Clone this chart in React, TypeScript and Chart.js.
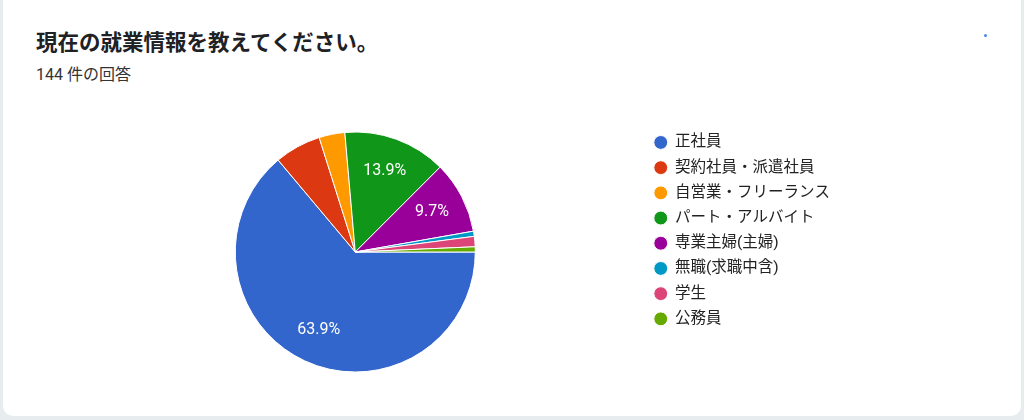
import React, { useEffect, useRef } from "react";
import { Chart, registerables } from "chart.js";

Chart.register(...registerables);

const categories = [
  "正社員",
  "契約社員・派遣社員",
  "自営業・フリーランス",
  "パート・アルバイト",
  "専業主婦(主婦)",
  "無職(求職中含)",
  "学生",
  "公務員",
];
const counts = [92, 9, 5, 20, 14, 1, 2, 1];
const colors = ["#3366cc", "#dc3912", "#ff9900", "#109618", "#990099", "#0099c6", "#dd4477", "#66aa00"];
const titleText = "現在の就業情報を教えてください。";
const responseText = "144 件の回答";

// draws the percentage inside the larger slices, like google forms does
const sliceLabels = {
  id: "sliceLabels",
  afterDatasetsDraw(chart: any) {
    const ctx = chart.ctx;
    const meta = chart.getDatasetMeta(0);
    const data = chart.data.datasets[0].data as number[];
    const total = data.reduce((a, b) => a + b, 0);
    ctx.save();
    ctx.fillStyle = "#ffffff";
    ctx.font = "16px Roboto, 'Noto Sans', sans-serif";
    ctx.textAlign = "center";
    ctx.textBaseline = "middle";
    meta.data.forEach((arc: any, i: number) => {
      const share = data[i] / total;
      if (share < 0.08) return;
      const { x, y, startAngle, endAngle, outerRadius } = arc.getProps(
        ["x", "y", "startAngle", "endAngle", "outerRadius"],
        true
      );
      const mid = (startAngle + endAngle) / 2;
      const r = outerRadius * 0.72;
      ctx.fillText((share * 100).toFixed(1) + "%", x + Math.cos(mid) * r, y + Math.sin(mid) * r);
    });
    ctx.restore();
  },
};

function App() {
  const canvasRef = useRef<HTMLCanvasElement>(null);

  useEffect(() => {
    const chart = new Chart(canvasRef.current!, {
      type: "pie",
      data: {
        labels: categories,
        datasets: [
          {
            data: counts,
            backgroundColor: colors,
            borderColor: "#ffffff",
            borderWidth: 1,
            radius: 120,
          },
        ],
      },
      options: {
        responsive: false,
        animation: false,
        rotation: 90,
        layout: { padding: { left: 66, right: 184, top: 125, bottom: 41 } },
        plugins: {
          tooltip: { enabled: false },
          legend: {
            position: "right",
            align: "start",
            labels: {
              usePointStyle: true,
              pointStyle: "circle",
              boxWidth: 13,
              boxHeight: 9.8,
              padding: 9.7,
              color: "#222222",
              font: { size: 15.5, family: "Roboto, 'Noto Sans CJK JP', sans-serif" },
            },
          },
        },
      },
      plugins: [sliceLabels],
    });
    return () => chart.destroy();
  }, []);

  return (
    <div
      style={{
        position: "fixed",
        left: 0,
        top: 0,
        width: 1024,
        height: 420,
        background: "#e7ecee",
        overflow: "hidden",
      }}
    >
      <div
        style={{
          position: "absolute",
          left: 3,
          top: -12,
          width: 1018,
          height: 428,
          background: "#ffffff",
          borderRadius: 10,
        }}
      />
      <div
        style={{
          position: "absolute",
          left: 36,
          top: 26,
          fontFamily: "'Noto Sans CJK JP', sans-serif",
          fontWeight: 700,
          fontSize: 21.5,
          lineHeight: "30px",
          color: "#202124",
          whiteSpace: "nowrap",
        }}
      >
        {titleText}
      </div>
      <div
        style={{
          position: "absolute",
          left: 36,
          top: 64,
          fontFamily: "Roboto, 'Noto Sans CJK JP', sans-serif",
          fontSize: 16,
          lineHeight: "22px",
          color: "#333333",
          whiteSpace: "nowrap",
        }}
      >
        {responseText}
      </div>
      <div
        style={{
          position: "absolute",
          left: 984,
          top: 34,
          width: 3,
          height: 3,
          borderRadius: 2,
          background: "#4a86e8",
        }}
      />
      <canvas
        ref={canvasRef}
        width={1024}
        height={420}
        style={{ position: "absolute", left: 0, top: 0, width: 1024, height: 420 }}
      />
    </div>
  );
}

export default App;
